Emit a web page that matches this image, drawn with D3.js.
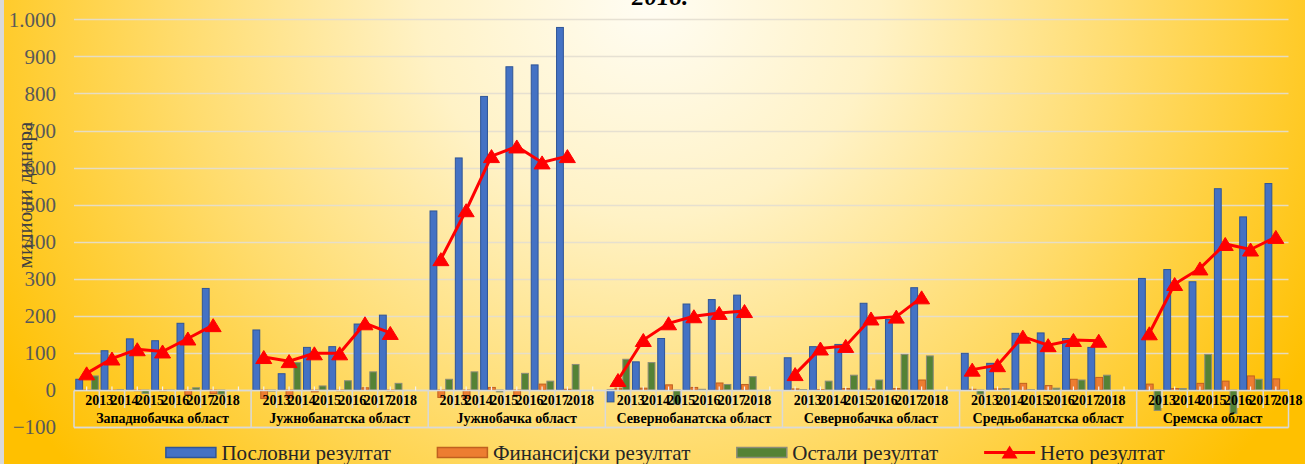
<!DOCTYPE html>
<html>
<head>
<meta charset="utf-8">
<script src="https://cdn.jsdelivr.net/npm/d3@7"></script>
<style>
  html, body { margin: 0; padding: 0; background: #fff; }
  svg { display: block; font-family: "Liberation Serif", "Times New Roman", serif; }
</style>
</head>
<body>
<svg width="1305" height="464"></svg>
<script>
(function() {
    'use strict';

    // regions and years on the two-level category axis
    var regions = ['Западнобачка област', 'Јужнобанатска област', 'Јужнобачка област',
        'Севернобанатска област', 'Севернобачка област', 'Средњобанатска област', 'Сремска област'];
    var years = ['2013', '2014', '2015', '2016', '2017', '2018'];

    // values in millions of dinars, one row per region, one column per year
    var poslovni = [
        [29, 106, 138, 133, 180, 274],
        [162, 44, 115, 117, 178, 202],
        [483, 626, 792, 872, 877, 978],
        [-32, 76, 139, 232, 244, 256],
        [87, 117, 123, 234, 190, 276],
        [99, 72, 153, 154, 139, 115],
        [301, 325, 292, 543, 467, 557]
    ];
    var finansijski = [
        [-1, -1, -2, -2, -12, -10],
        [-23, -21, -5, -2, 6, -2],
        [-20, -23, 7, -15, 16, 2],
        [5, 5, 14, 7, 19, 15],
        [3, 1, 4, 3, 4, 27],
        [2, 3, 18, 12, 29, 34],
        [16, 4, 18, 24, 38, 30]
    ];
    var ostali = [
        [38, 1, -9, -1, 6, -11],
        [-3, 74, 11, 25, 49, 18],
        [29, 49, -5, 45, 24, 69],
        [83, 74, -38, 2, 15, 36],
        [1, 24, 40, 27, 96, 92],
        [-11, 4, 1, 5, 27, 40],
        [-55, 4, 96, -63, 29, -2]
    ];
    var neto = [
        [45, 85, 110, 104, 139, 175],
        [89, 78, 99, 99, 180, 154],
        [353, 485, 631, 657, 614, 631],
        [27, 135, 180, 199, 208, 213],
        [43, 112, 119, 193, 198, 250],
        [55, 67, 144, 121, 135, 133],
        [153, 286, 328, 394, 379, 413]
    ];
    var yTicks = [-100, 0, 100, 200, 300, 400, 500, 600, 700, 800, 900, 1000];

    var barSeries = [
        {key: 'poslovni', name: 'Пословни резултат', values: poslovni, fill: '#4472C4', stroke: '#2F5597'},
        {key: 'finansijski', name: 'Финансијски резултат', values: finansijski, fill: '#ED7D31', stroke: '#C0601F'},
        {key: 'ostali', name: 'Остали резултат', values: ostali, fill: '#548235', stroke: '#8C8C7A'}
    ];
    var lineColor = '#FF0000';

    var svg = d3.select('svg'),
        width = +svg.attr('width'),
        height = +svg.attr('height'),
        left = 74,
        right = 1288.5;

    // every region gets six year slots plus an empty spacer slot (except the last)
    var slots = [];
    regions.forEach(function(r, i) {
        years.forEach(function(y) { slots.push(r + '|' + y); });
        if (i < regions.length - 1) slots.push(r + '|gap');
    });

    var x = d3.scaleBand().domain(slots).range([left, right]);
    var xs = d3.scaleBand().domain(barSeries.map(function(s) { return s.key; }))
        .range([1.3, x.bandwidth() - 0.5]);
    var y = d3.scaleLinear().domain([-100, 1000]).range([427.1, 19.3]);

    // background
    var defs = svg.append('defs');
    var grad = defs.append('radialGradient')
        .attr('id', 'bg')
        .attr('gradientUnits', 'userSpaceOnUse')
        .attr('cx', 650).attr('cy', 0).attr('r', 760)
        .attr('gradientTransform', 'translate(650,0) scale(1,0.95) translate(-650,0)');
    grad.append('stop').attr('offset', 0).attr('stop-color', '#FFFDF4');
    grad.append('stop').attr('offset', 0.3).attr('stop-color', '#FFF2C6');
    grad.append('stop').attr('offset', 0.62).attr('stop-color', '#FFDC6E');
    grad.append('stop').attr('offset', 1).attr('stop-color', '#FFC000');

    svg.append('rect').attr('width', width).attr('height', height).attr('fill', 'url(#bg)');
    svg.append('rect').attr('width', 4).attr('height', height).attr('fill', '#D9D9D9');

    // title (only its last line is inside the picture)
    svg.append('text')
        .attr('x', 660).attr('y', 5)
        .attr('text-anchor', 'middle')
        .style('font-size', '25px').style('font-weight', 'bold').style('font-style', 'italic')
        .text('2018.');

    // gridlines
    svg.append('g').selectAll('line')
        .data(yTicks)
        .enter().append('line')
        .attr('x1', left).attr('x2', right)
        .attr('y1', function(d) { return Math.round(y(d)) + 0.5; })
        .attr('y2', function(d) { return Math.round(y(d)) + 0.5; })
        .attr('stroke', '#E3DED0')
        .attr('stroke-opacity', 0.9)
        .attr('stroke-width', 1.3);

    // y axis labels
    svg.append('g').selectAll('text')
        .data(yTicks)
        .enter().append('text')
        .attr('x', 56)
        .attr('y', function(d) { return y(d); })
        .attr('dy', '0.35em')
        .attr('text-anchor', 'end')
        .attr('fill', '#595959')
        .style('font-size', '21px')
        .text(function(d) { return d3.format(',')(d).replace(/,/g, '.'); });

    svg.append('text')
        .attr('transform', 'translate(32,195) rotate(-90)')
        .attr('text-anchor', 'middle')
        .attr('fill', '#404040')
        .style('font-size', '21px')
        .text('милиони динара');

    // bars
    var cells = [];
    barSeries.forEach(function(s) {
        regions.forEach(function(r, i) {
            years.forEach(function(yr, j) {
                cells.push({series: s, slot: r + '|' + yr, value: s.values[i][j]});
            });
        });
    });

    svg.append('g').selectAll('rect')
        .data(cells)
        .enter().append('rect')
        .attr('x', function(d) { return x(d.slot) + xs(d.series.key) + 0.5; })
        .attr('width', xs.bandwidth() - 1)
        .attr('y', function(d) { return Math.min(y(d.value), y(0)); })
        .attr('height', function(d) { return Math.max(0.5, Math.abs(y(d.value) - y(0))); })
        .attr('fill', function(d) { return d.series.fill; })
        .attr('stroke', function(d) { return d.series.stroke; })
        .attr('stroke-width', 1);

    // category axis: line, ticks, region separators
    var axis = svg.append('g').attr('stroke', '#D9D9D9');
    var y0 = Math.round(y(0)) + 0.5;
    axis.append('line').attr('x1', left).attr('x2', right).attr('y1', y0).attr('y2', y0)
        .attr('stroke-width', 1.5);
    axis.append('line').attr('x1', left).attr('x2', right).attr('y1', 427.5).attr('y2', 427.5)
        .attr('stroke-width', 1.5);

    axis.selectAll('.tick')
        .data(slots)
        .enter().append('line')
        .attr('class', 'tick')
        .attr('x1', function(d) { return x(d); })
        .attr('x2', function(d) { return x(d); })
        .attr('y1', y0)
        .attr('y2', function(d, i) { return (i % 7 === 0) ? 427.5 : 408; })
        .attr('stroke-width', 1.5);
    axis.append('line').attr('x1', right).attr('x2', right).attr('y1', y0).attr('y2', 427.5)
        .attr('stroke-width', 1.5);

    axis.selectAll('.mid')
        .data(slots)
        .enter().append('line')
        .attr('class', 'mid')
        .attr('x1', function(d) { return x(d) + x.bandwidth() / 2; })
        .attr('x2', function(d) { return x(d) + x.bandwidth() / 2; })
        .attr('y1', y0 - 4).attr('y2', y0)
        .attr('stroke', '#F2F2F2')
        .attr('stroke-width', 1.2);

    // year labels sit on the right edge of their slot
    var yearCells = [];
    regions.forEach(function(r) {
        years.forEach(function(yr) { yearCells.push({slot: r + '|' + yr, year: yr}); });
    });
    svg.append('g').selectAll('text')
        .data(yearCells)
        .enter().append('text')
        .attr('x', function(d) { return x(d.slot) + x.bandwidth(); })
        .attr('y', 405)
        .attr('text-anchor', 'middle')
        .style('font-size', '14px').style('font-weight', 'bold')
        .text(function(d) { return d.year; });

    svg.append('g').selectAll('text')
        .data(regions)
        .enter().append('text')
        .attr('x', function(d, i) {
            var a = x(d + '|2013'),
                b = (i < regions.length - 1) ? x(d + '|gap') + x.bandwidth() : right;
            return (a + b) / 2;
        })
        .attr('y', 423)
        .attr('text-anchor', 'middle')
        .style('font-size', '14px').style('font-weight', 'bold')
        .text(function(d) { return d; });

    // net result line, one piece per region
    var line = d3.line()
        .x(function(d) { return x(d.slot) + x.bandwidth() / 2; })
        .y(function(d) { return y(d.value); });
    var tri = 'M0,-6.5L8,6.5L-8,6.5Z';

    var netData = regions.map(function(r, i) {
        return years.map(function(yr, j) { return {slot: r + '|' + yr, value: neto[i][j]}; });
    });
    var netG = svg.append('g');
    netG.selectAll('path.net')
        .data(netData)
        .enter().append('path')
        .attr('class', 'net')
        .attr('d', line)
        .attr('fill', 'none')
        .attr('stroke', lineColor)
        .attr('stroke-width', 3);
    netG.selectAll('path.mark')
        .data(d3.merge(netData))
        .enter().append('path')
        .attr('class', 'mark')
        .attr('transform', function(d) {
            return 'translate(' + (x(d.slot) + x.bandwidth() / 2) + ',' + y(d.value) + ')';
        })
        .attr('d', tri)
        .attr('fill', lineColor)
        .attr('stroke', lineColor)
        .attr('stroke-width', 1);

    // legend
    var legendItems = barSeries.map(function(s) { return {name: s.name, series: s}; })
        .concat([{name: 'Нето резултат', series: null}]);
    var legend = svg.append('g');
    var items = legend.selectAll('g')
        .data(legendItems)
        .enter().append('g');
    items.each(function(d) {
        var g = d3.select(this);
        if (d.series) {
            g.append('rect')
                .attr('x', 0.5).attr('y', 447.5).attr('width', 50).attr('height', 10)
                .attr('fill', d.series.fill)
                .attr('stroke', d.series.stroke)
                .attr('stroke-width', 1.5);
        } else {
            g.append('line')
                .attr('x1', 0).attr('x2', 51).attr('y1', 452.5).attr('y2', 452.5)
                .attr('stroke', lineColor).attr('stroke-width', 3);
            g.append('path')
                .attr('transform', 'translate(25.5,452)')
                .attr('d', tri)
                .attr('fill', lineColor);
        }
        g.append('text')
            .attr('x', 56).attr('y', 459.5)
            .attr('fill', '#262626')
            .style('font-size', '21px')
            .text(d.name);
    });
    var widths = [];
    items.each(function() {
        widths.push(56 + d3.select(this).select('text').node().getComputedTextLength());
    });
    var gap = 46,
        total = d3.sum(widths) + gap * (widths.length - 1),
        pos = 665 - total / 2;
    items.attr('transform', function(d, i) {
        var p = pos;
        pos += widths[i] + gap;
        return 'translate(' + p + ',0)';
    });
})();
</script>
</body>
</html>
